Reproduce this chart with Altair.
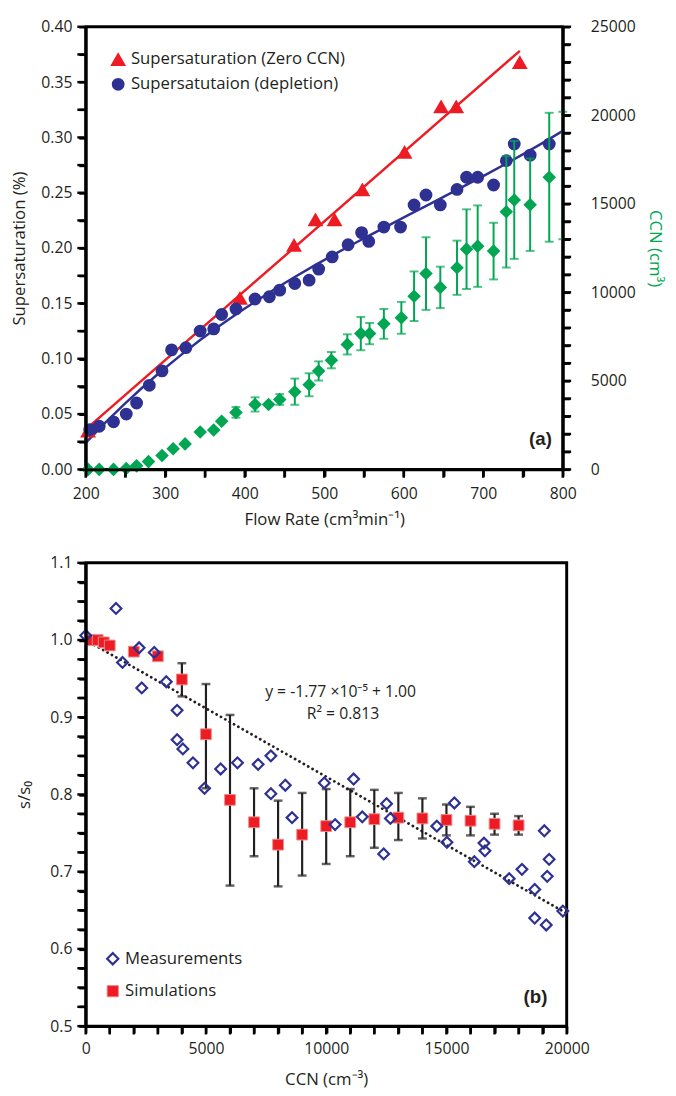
import altair as alt
import pandas as pd

# ---------------- colours ----------------
RED = "#ed1c24"
BLUE = "#2e3192"
GREEN = "#00a651"
INK = "#231f20"

# ---------------- Panel (a) data ----------------
red_name = "Supersaturation (Zero CCN)"
blue_name = "Supersatutaion (depletion)"

red_flow = [203, 394, 462, 489, 513, 548, 601, 647, 666, 746]
red_ss = [0.035, 0.155, 0.203, 0.226, 0.226, 0.253, 0.287, 0.328, 0.328, 0.368]

blue_flow = [205, 217, 235, 251, 264, 280, 296, 308, 326, 344, 361, 371, 389, 413, 431, 444,
             463, 481, 493, 510, 530, 547, 556, 575, 596, 613, 628, 646, 667, 679, 693, 713,
             729, 739, 759, 783]
blue_ss = [0.036, 0.039, 0.043, 0.050, 0.060, 0.076, 0.089, 0.108, 0.110, 0.125, 0.127, 0.140,
           0.145, 0.154, 0.156, 0.162, 0.168, 0.171, 0.181, 0.192, 0.203, 0.214, 0.206, 0.219,
           0.219, 0.239, 0.248, 0.239, 0.253, 0.264, 0.264, 0.257, 0.279, 0.294, 0.284, 0.294]

green_flow = [203, 217, 235, 251, 264, 279, 296, 310, 325, 344, 361, 371, 389, 413, 430, 444,
              463, 481, 493, 509, 529, 546, 557, 575, 597, 613, 628, 646, 667, 679, 693, 713,
              729, 739, 759, 783, 800]
green_ccn = [0, 0, 0, 50, 200, 440, 780, 1170, 1440, 2110, 2220, 2720, 3220, 3670, 3670, 3950,
             4390, 4780, 5560, 6170, 7060, 7670, 7670, 8220, 8560, 9780, 11060, 10280, 11390,
             12440, 12610, 12330, 14550, 15220, 14950, 16500, 16600]
green_err = [0, 0, 0, 0, 0, 0, 0, 0, 0, 0, 0, 0, 300, 400, 0, 300,
             740, 650, 540, 460, 570, 940, 600, 840, 900, 1400, 2050, 1170, 1530,
             2250, 2300, 1600, 3150, 3330, 2610, 3640, 3600]

a_x_ticks = [200, 250, 300, 350, 400, 450, 500, 550, 600, 650, 700, 750, 800]
a_left_ticks = [0.0, 0.025, 0.05, 0.075, 0.1, 0.125, 0.15, 0.175, 0.2, 0.225, 0.25, 0.275,
                0.3, 0.325, 0.35, 0.375, 0.4]
a_right_ticks = [0, 1000, 2000, 3000, 4000, 5000, 6000, 7000, 8000, 9000, 10000, 11000, 12000,
                 13000, 14000, 15000, 16000, 17000, 18000, 19000, 20000, 21000, 22000, 23000,
                 24000, 25000]

# ---------------- Panel (b) data ----------------
meas_name = "Measurements"
sim_name = "Simulations"

meas_ccn = [0, 1260, 1530, 2220, 2330, 2850, 3350, 3800, 3800, 4040, 4460, 4940, 5610, 6310,
            7170, 7700, 7700, 8300, 8580, 9920, 10370, 11140, 11500, 12390, 12510, 12670,
            14600, 15020, 15330, 16160, 16560, 16600, 17610, 18140, 18670, 18670, 19070,
            19150, 19190, 19270, 19840]
meas_ratio = [1.006, 1.041, 0.971, 0.990, 0.938, 0.984, 0.946, 0.909, 0.871, 0.859, 0.841,
              0.808, 0.833, 0.841, 0.839, 0.850, 0.801, 0.812, 0.770, 0.815, 0.761, 0.820,
              0.771, 0.723, 0.788, 0.769, 0.759, 0.738, 0.789, 0.713, 0.737, 0.727, 0.691,
              0.703, 0.677, 0.640, 0.753, 0.631, 0.694, 0.716, 0.649]

sim_ccn = [200, 500, 750, 1000, 2000, 3000, 4000, 5000, 6000, 7000, 8000, 9000, 10000, 11000,
           12000, 13000, 14000, 15000, 16000, 17000, 18000]
sim_ratio = [1.000, 1.000, 0.997, 0.993, 0.985, 0.979, 0.949, 0.878, 0.793, 0.764, 0.735,
             0.748, 0.759, 0.764, 0.768, 0.770, 0.769, 0.767, 0.766, 0.762, 0.760]

simerr_ccn = [4000, 5000, 6000, 7000, 8000, 9000, 10000, 11000, 12000, 13000, 14000, 15000,
              16000, 17000, 18000]
simerr_lo = [0.927, 0.808, 0.682, 0.720, 0.681, 0.695, 0.710, 0.720, 0.731, 0.741, 0.743,
             0.747, 0.747, 0.748, 0.748]
simerr_hi = [0.970, 0.943, 0.903, 0.808, 0.792, 0.802, 0.807, 0.807, 0.806, 0.802, 0.795,
             0.787, 0.784, 0.775, 0.772]

b_x_ticks = [0, 1000, 2000, 3000, 4000, 5000, 6000, 7000, 8000, 9000, 10000, 11000, 12000,
             13000, 14000, 15000, 16000, 17000, 18000, 19000, 20000]
b_y_ticks = [0.5, 0.525, 0.55, 0.575, 0.6, 0.625, 0.65, 0.675, 0.7, 0.725, 0.75, 0.775, 0.8,
             0.825, 0.85, 0.875, 0.9, 0.925, 0.95, 0.975, 1.0, 1.025, 1.05, 1.075, 1.1]

# fitted trend stated on the chart: y = -1.77e-5 x + 1.00 over the CCN axis range
fit_slope = -1.77e-5
fit_intercept = 1.00
fit_range = [0, 20000]

fit_text = ["y = -1.77 \u00d710\u207b\u2075 + 1.00", "R\u00b2 = 0.813"]
fit_x = [10600, 10700]
fit_y = [0.932, 0.904]

# ---------------- frames ----------------
df_ss = pd.concat([
    pd.DataFrame({"flow": red_flow, "ss": red_ss, "series": red_name}),
    pd.DataFrame({"flow": blue_flow, "ss": blue_ss, "series": blue_name}),
], ignore_index=True)
df_red = pd.DataFrame({"flow": red_flow, "ss": red_ss})
df_blue = pd.DataFrame({"flow": blue_flow, "ss": blue_ss})
df_green = pd.DataFrame({"flow": green_flow, "ccn": green_ccn, "err": green_err})
df_green["lo"] = df_green["ccn"] - df_green["err"]
df_green["hi"] = df_green["ccn"] + df_green["err"]

df_pts_b = pd.concat([
    pd.DataFrame({"ccn": sim_ccn, "ratio": sim_ratio, "kind": sim_name}),
    pd.DataFrame({"ccn": meas_ccn, "ratio": meas_ratio, "kind": meas_name}),
], ignore_index=True)
df_simerr = pd.DataFrame({"ccn": simerr_ccn, "lo": simerr_lo, "hi": simerr_hi})
df_fit = pd.DataFrame({"ccn": fit_x, "ratio": fit_y, "text": fit_text})
df_trend = pd.DataFrame({"ccn": fit_range})

FONT = "Open Sans"
W_A, H_A = 485, 450
W_B, H_B = 489, 471
TICK_LEN = 7
TICKS = dict(ticks=True, tickSize=TICK_LEN, tickWidth=2.5, tickColor="#000000", tickOpacity=1,
             domain=True, domainWidth=3, domainColor="#000000", zindex=2)


def tick_marks(values, field, scale, axis, orient_side, panel_w, panel_h):
    """Outward axis tick marks drawn at the tick values through the panel's scale."""
    df = pd.DataFrame({field: values})
    off = 1.5 + TICK_LEN / 2
    if orient_side == "bottom":
        return alt.Chart(df).mark_tick(orient="vertical", size=TICK_LEN, thickness=2.5,
                                       color="black", opacity=1, clip=False).encode(
            x=alt.X(f"{field}:Q", scale=scale, axis=axis), y=alt.value(panel_h + off))
    xpos = -off if orient_side == "left" else panel_w + off
    return alt.Chart(df).mark_tick(orient="horizontal", size=TICK_LEN, thickness=2.5,
                                   color="black", opacity=1, clip=False).encode(
        y=alt.Y(f"{field}:Q", scale=scale, axis=axis), x=alt.value(xpos))


# ---------------- Panel (a) ----------------
xa_scale = alt.Scale(domain=[200, 800], nice=False, zero=False)
ya_scale = alt.Scale(domain=[0, 0.4], nice=False, zero=False)
xa_axis = alt.Axis(title="Flow Rate (cm\u00b3min\u207b\u00b9)", values=a_x_ticks,
                   labelExpr="datum.value % 100 == 0 ? format(datum.value, 'd') : ''",
                   labelPadding=10, titlePadding=10, **TICKS)
ya_axis = alt.Axis(title="Supersaturation (%)", values=a_left_ticks,
                   labelExpr="abs(datum.value*20 - round(datum.value*20)) < 0.001 ? format(datum.value, '.2f') : ''",
                   labelPadding=7, titlePadding=13, **TICKS)
xa = alt.X("flow:Q", scale=xa_scale, axis=xa_axis)
ya = alt.Y("ss:Q", scale=ya_scale, axis=ya_axis)

red_line = alt.Chart(df_red).transform_regression("flow", "ss", method="linear").mark_line(
    color=RED, strokeWidth=2.5).encode(x=xa, y=ya)
blue_line = alt.Chart(df_blue).transform_regression(
    "flow", "ss", method="poly", order=3, extent=[200, 800]).mark_line(
    color=BLUE, strokeWidth=2.5).encode(x=xa, y=ya)

leg_a = alt.Legend(title=None, orient="none", legendX=24, legendY=24, labelFontSize=17,
                   symbolSize=200, rowPadding=8, labelOffset=4, labelColor=INK, labelFont=FONT,
                   labelLimit=0)
pts_a = alt.Chart(df_ss).mark_point(filled=True, opacity=1).encode(
    x=xa, y=ya,
    color=alt.Color("series:N", scale=alt.Scale(domain=[red_name, blue_name], range=[RED, BLUE]),
                    legend=leg_a, sort=[red_name, blue_name]),
    shape=alt.Shape("series:N", scale=alt.Scale(domain=[red_name, blue_name],
                                                range=["triangle-up", "circle"]),
                    legend=leg_a, sort=[red_name, blue_name]),
    size=alt.Size("series:N", scale=alt.Scale(domain=[red_name, blue_name], range=[260, 170]),
                  legend=None),
)

g_scale = alt.Scale(domain=[0, 25000], nice=False, zero=False)
g_axis = alt.Axis(title="CCN (cm\u00b3)", orient="right", values=a_right_ticks,
                  labelExpr="datum.value % 5000 == 0 ? format(datum.value, 'd') : ''",
                  titleColor=GREEN, labelPadding=21, titlePadding=10, **TICKS)
yg = alt.Y("ccn:Q", scale=g_scale, axis=g_axis)
g_err = df_green[df_green["err"] > 0]
g_rule = alt.Chart(g_err).mark_rule(color=GREEN, strokeWidth=2).encode(
    x=xa, y=alt.Y("lo:Q", scale=g_scale, axis=g_axis), y2="hi:Q")
g_cap_lo = alt.Chart(g_err).mark_tick(color=GREEN, orient="horizontal", size=9, thickness=2).encode(
    x=xa, y=alt.Y("lo:Q", scale=g_scale, axis=g_axis))
g_cap_hi = alt.Chart(g_err).mark_tick(color=GREEN, orient="horizontal", size=9, thickness=2).encode(
    x=xa, y=alt.Y("hi:Q", scale=g_scale, axis=g_axis))
g_pts = alt.Chart(df_green).transform_filter("datum.flow < 790").mark_point(
    shape="diamond", filled=True, color=GREEN, size=190, opacity=1).encode(x=xa, y=yg)

lab_a = alt.Chart(pd.DataFrame({"flow": [772], "ss": [0.027], "t": ["(a)"]})).mark_text(
    font="Liberation Sans", fontWeight="bold", fontSize=19, color=INK).encode(
    x=xa, y=ya, text="t:N")

left = alt.layer(
    red_line, blue_line, pts_a, lab_a,
    tick_marks(a_left_ticks, "ss", ya_scale, ya_axis, "left", W_A, H_A),
    tick_marks(a_x_ticks, "flow", xa_scale, xa_axis, "bottom", W_A, H_A),
)
right = alt.layer(g_rule, g_cap_lo, g_cap_hi, g_pts,
                  tick_marks(a_right_ticks, "ccn", g_scale, g_axis, "right", W_A, H_A))
panel_a = alt.layer(left, right).resolve_scale(y="independent").properties(width=W_A, height=H_A)

# ---------------- Panel (b) ----------------
xb_scale = alt.Scale(domain=[0, 20000], nice=False, zero=False)
xb_axis = alt.Axis(title="CCN (cm\u207b\u00b3)", values=b_x_ticks,
                   labelExpr="datum.value % 5000 == 0 ? format(datum.value, 'd') : ''",
                   labelPadding=8, titlePadding=15, **TICKS)
xb = alt.X("ccn:Q", scale=xb_scale, axis=xb_axis)
yb_scale = alt.Scale(domain=[0.5, 1.1], nice=False, zero=False)
yb_axis = alt.Axis(title="s/s\u2080", values=b_y_ticks,
                   labelExpr="abs(datum.value*10 - round(datum.value*10)) < 0.001 ? format(datum.value, '.1f') : ''",
                   labelPadding=7, titlePadding=17, **TICKS)
yb = alt.Y("ratio:Q", scale=yb_scale, axis=yb_axis)

fit_line = alt.Chart(df_trend).transform_calculate(
    ratio=f"{fit_intercept} + ({fit_slope}) * datum.ccn").mark_line(
    color=INK, strokeWidth=2.8, strokeDash=[0.1, 5], strokeCap="round").encode(x=xb, y=yb)

b_rule = alt.Chart(df_simerr).mark_rule(color=INK, strokeWidth=2.2).encode(
    x=xb, y=alt.Y("lo:Q", scale=yb_scale, axis=yb_axis), y2="hi:Q")
b_cap_lo = alt.Chart(df_simerr).mark_tick(color=INK, orient="horizontal", size=9, thickness=2.5).encode(
    x=xb, y=alt.Y("lo:Q", scale=yb_scale, axis=yb_axis))
b_cap_hi = alt.Chart(df_simerr).mark_tick(color=INK, orient="horizontal", size=9, thickness=2.5).encode(
    x=xb, y=alt.Y("hi:Q", scale=yb_scale, axis=yb_axis))

leg_b = alt.Legend(title=None, orient="none", legendX=19, legendY=394, labelFontSize=17,
                   symbolSize=130, rowPadding=13, labelOffset=4, labelColor=INK, labelFont=FONT,
                   symbolStrokeWidth=2, labelLimit=0)
kinds = [meas_name, sim_name]
pts_b = alt.Chart(df_pts_b).mark_point(opacity=1, size=120).encode(
    x=xb, y=yb,
    shape=alt.Shape("kind:N", scale=alt.Scale(domain=kinds, range=["diamond", "square"]),
                    legend=leg_b),
    stroke=alt.Stroke("kind:N", scale=alt.Scale(domain=kinds, range=[BLUE, "#f08a8a"]),
                      legend=leg_b),
    fill=alt.Fill("kind:N", scale=alt.Scale(domain=kinds, range=["transparent", RED]),
                  legend=leg_b),
    strokeWidth=alt.StrokeWidth("kind:N", scale=alt.Scale(domain=kinds, range=[2.2, 1]),
                                legend=None),
)

fit_txt = alt.Chart(df_fit).mark_text(font=FONT, fontSize=16, color=INK).encode(
    x=xb, y=yb, text="text:N")
lab_b = alt.Chart(pd.DataFrame({"ccn": [18700], "ratio": [0.537], "t": ["(b)"]})).mark_text(
    font="Liberation Sans", fontWeight="bold", fontSize=19, color=INK).encode(
    x=xb, y=yb, text="t:N")

panel_b = alt.layer(
    fit_line, b_rule, b_cap_lo, b_cap_hi, pts_b, fit_txt, lab_b,
    tick_marks(b_x_ticks, "ccn", xb_scale, xb_axis, "bottom", W_B, H_B),
    tick_marks(b_y_ticks, "ratio", yb_scale, yb_axis, "left", W_B, H_B),
).properties(width=W_B, height=H_B)

chart = alt.vconcat(panel_a, panel_b, spacing=24).resolve_scale(
    color="independent", shape="independent", size="independent", fill="independent",
    stroke="independent", strokeWidth="independent"
).resolve_legend(
    color="independent", shape="independent", fill="independent", stroke="independent"
).properties(
    padding={"left": 0, "top": 0, "right": 3, "bottom": 0}
).configure(font=FONT).configure_view(stroke="black", strokeWidth=3).configure_axis(
    labelFontSize=16, titleFontSize=17, titleFontWeight="normal", labelColor=INK,
    titleColor=INK, grid=False, labelOverlap=False, labelFlush=False, labelFont=FONT,
    titleFont=FONT, ticks=True, tickSize=TICK_LEN, tickWidth=2.5, tickColor="#000000"
)

chart.save("out.html", embed_options={"renderer": "svg", "actions": False})
